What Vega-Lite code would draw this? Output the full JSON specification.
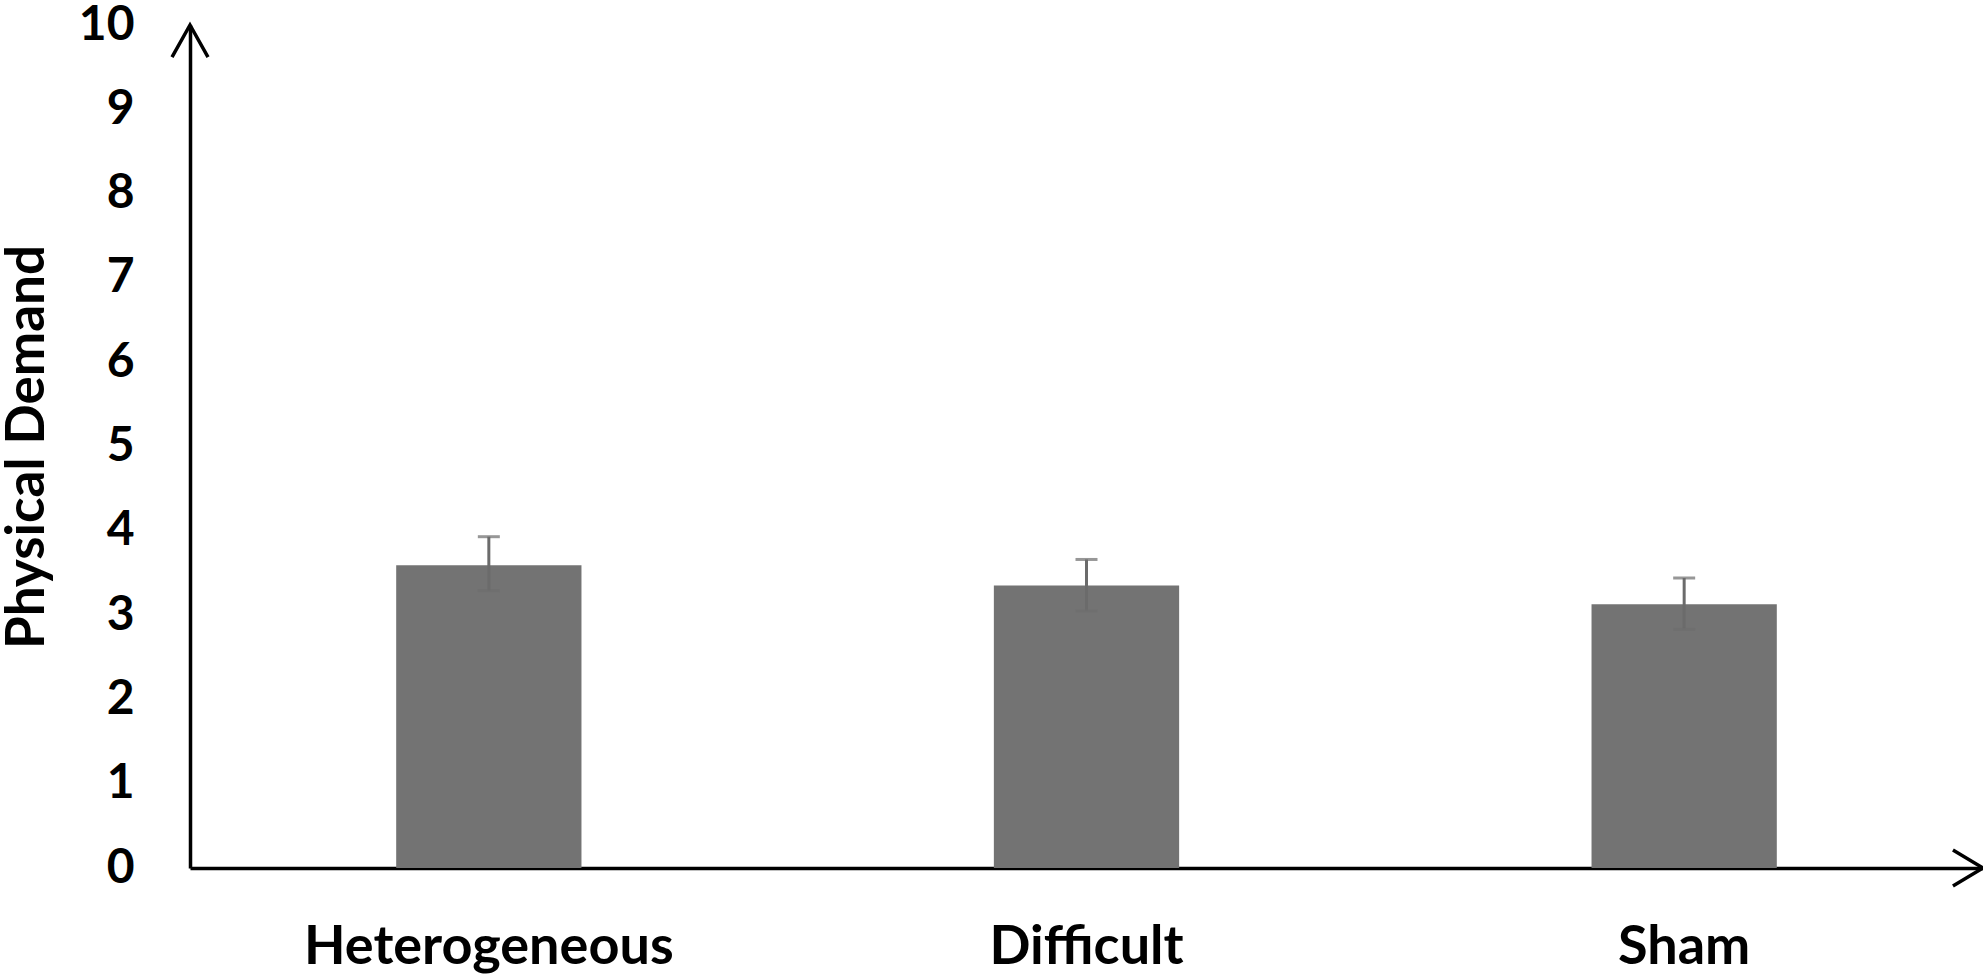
{
  "$schema": "https://vega.github.io/schema/vega-lite/v6.json",
  "width": 1793,
  "height": 843,
  "autosize": {"type": "none"},
  "padding": {"left": 190, "top": 25, "right": 0, "bottom": 107},
  "background": "white",
  "config": {
    "font": "Lato",
    "view": {"stroke": null}
  },
  "datasets": {
    "bars": [
      {"condition": "Heterogeneous", "mean": 3.59, "lo": 3.29, "hi": 3.93},
      {"condition": "Difficult", "mean": 3.35, "lo": 3.05, "hi": 3.66},
      {"condition": "Sham", "mean": 3.13, "lo": 2.83, "hi": 3.44}
    ],
    "arrows": [
      {"ax": 0, "ay": 10, "dir": "up"},
      {"ax": 1, "ay": 0, "dir": "right"}
    ]
  },
  "layer": [
    {
      "data": {"name": "bars"},
      "encoding": {
        "x": {
          "field": "condition",
          "type": "nominal",
          "sort": null,
          "scale": {"paddingInner": 0.69, "paddingOuter": 0.345},
          "axis": {
            "title": null,
            "labelAngle": 0,
            "labelLimit": 0,
            "labelFont": "Lato",
            "labelFontSize": 54,
            "labelFontWeight": "bold",
            "labelColor": "black",
            "labelPadding": 52,
            "ticks": false,
            "domainColor": "black",
            "domainWidth": 3.5
          }
        }
      },
      "layer": [
        {
          "mark": {"type": "bar", "color": "#737373"},
          "encoding": {
            "y": {
              "field": "mean",
              "type": "quantitative",
              "scale": {"domain": [0, 10]},
              "axis": {
                "title": "Physical Demand",
                "titleFont": "Lato",
                "titleFontSize": 53,
                "titleFontWeight": "bold",
                "titleColor": "black",
                "titlePadding": 24,
                "values": [0, 1, 2, 3, 4, 5, 6, 7, 8, 9, 10],
                "format": "d",
                "labelFont": "Lato",
                "labelFontSize": 48,
                "labelFontWeight": "bold",
                "labelColor": "black",
                "labelPadding": 56,
                "ticks": false,
                "grid": false,
                "domainColor": "black",
                "domainWidth": 3.5
              }
            }
          }
        },
        {
          "mark": {"type": "rule", "color": "#6b6b6b", "strokeWidth": 3},
          "encoding": {
            "y": {"field": "lo", "type": "quantitative"},
            "y2": {"field": "hi"}
          }
        },
        {
          "mark": {"type": "tick", "color": "#6b6b6b", "thickness": 3, "size": 22},
          "encoding": {
            "y": {"field": "hi", "type": "quantitative"}
          }
        },
        {
          "mark": {"type": "tick", "color": "#6e6e6e", "thickness": 3, "size": 22},
          "encoding": {
            "y": {"field": "lo", "type": "quantitative"}
          }
        }
      ]
    },
    {
      "data": {"name": "arrows"},
      "mark": {"type": "point", "filled": false, "stroke": "black", "strokeWidth": 3.5, "size": 1296, "opacity": 1},
      "encoding": {
        "x": {"field": "ax", "type": "quantitative", "scale": {"domain": [0, 1]}, "axis": null},
        "y": {"field": "ay", "type": "quantitative"},
        "shape": {
          "field": "dir",
          "type": "nominal",
          "scale": {
            "domain": ["up", "right"],
            "range": ["M-1,1.78L0,0L1,1.78", "M-1.67,-1L0,0L-1.67,1"]
          },
          "legend": null
        }
      }
    }
  ],
  "resolve": {"scale": {"x": "independent"}}
}
